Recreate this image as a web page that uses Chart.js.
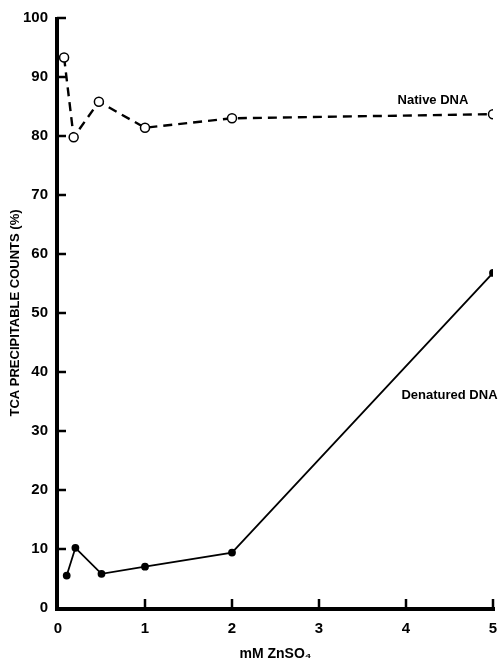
<!DOCTYPE html>
<html>
<head>
<meta charset="utf-8">
<script src="https://cdn.jsdelivr.net/npm/chart.js@4/dist/chart.umd.min.js"></script>
<style>
  html, body { margin: 0; padding: 0; background: #fff; }
  #wrap { width: 502px; height: 665px; }
</style>
</head>
<body>
<div id="wrap"><canvas id="chart"></canvas></div>
<script>
// x values (mM ZnSO4) and percent TCA precipitable counts
const nativeX = [0.07, 0.18, 0.47, 1, 2, 5];
const nativeY = [93.3, 79.8, 85.8, 81.4, 83.0, 83.7];
const denatX = [0.1, 0.2, 0.5, 1, 2, 5];
const denatY = [5.5, 10.2, 5.8, 7.0, 9.4, 56.8];
const xTicks = [0, 1, 2, 3, 4, 5];
const yTicks = [0, 10, 20, 30, 40, 50, 60, 70, 80, 90, 100];

const FONT = '"Liberation Sans", Arial, sans-serif';

const toPoints = (xs, ys) => xs.map((x, i) => ({ x: x, y: ys[i] }));

// axis lines + inward tick marks, drawn from the scales
const axesPlugin = {
  id: 'axes',
  afterDraw(chart) {
    const c = chart.ctx, x = chart.scales.x, y = chart.scales.y;
    const a = chart.chartArea;
    c.save();
    c.strokeStyle = '#000';
    c.lineWidth = 4;
    c.beginPath();
    c.moveTo(a.left - 1, a.top - 1);
    c.lineTo(a.left - 1, a.bottom + 1);
    c.lineTo(a.right + 2, a.bottom + 1);
    c.stroke();
    c.lineWidth = 2.5;
    yTicks.forEach(v => {
      if (v === 0) return;
      const py = y.getPixelForValue(v);
      c.beginPath(); c.moveTo(a.left - 1, py); c.lineTo(a.left + 8, py); c.stroke();
    });
    xTicks.forEach(v => {
      if (v === 0) return;
      const px = x.getPixelForValue(v);
      c.beginPath(); c.moveTo(px, a.bottom + 1); c.lineTo(px, a.bottom - 9); c.stroke();
    });
    // series names
    c.fillStyle = '#000';
    c.font = 'bold 13px ' + FONT;
    c.textAlign = 'center';
    c.textBaseline = 'middle';
    c.fillText('Native DNA', x.getPixelForValue(4.31), y.getPixelForValue(86));
    c.fillText('Denatured DNA', x.getPixelForValue(4.5), y.getPixelForValue(36));
    c.restore();
  }
};

new Chart(document.getElementById('chart'), {
  type: 'scatter',
  data: {
    datasets: [{
      label: 'Native DNA',
      data: toPoints(nativeX, nativeY),
      showLine: true,
      borderColor: '#000',
      borderWidth: 2.4,
      borderDash: [9, 6],
      pointRadius: 4.5,
      pointBorderWidth: 1.5,
      pointBackgroundColor: '#fff',
      pointBorderColor: '#000'
    }, {
      label: 'Denatured DNA',
      data: toPoints(denatX, denatY),
      showLine: true,
      borderColor: '#000',
      borderWidth: 1.8,
      pointRadius: 3,
      pointBackgroundColor: '#000',
      pointBorderColor: '#000'
    }]
  },
  options: {
    responsive: true,
    maintainAspectRatio: false,
    animation: false,
    layout: { padding: { top: 18, right: 9, left: 0, bottom: 0 } },
    plugins: { legend: { display: false }, tooltip: { enabled: false } },
    scales: {
      x: {
        type: 'linear', min: 0, max: 5,
        afterFit: s => { s.height = 57; s.paddingLeft = 0; s.paddingRight = 0; },
        afterBuildTicks: s => { s.ticks = xTicks.map(v => ({ value: v })); },
        grid: { display: false, drawTicks: false },
        border: { display: false },
        ticks: { color: '#000', padding: 12, font: { family: FONT, size: 15, weight: 'bold' } },
        title: { display: true, text: 'mM ZnSO\u2084', color: '#000', padding: { top: 0, bottom: 2 }, font: { family: FONT, size: 14, weight: 'bold' } }
      },
      y: {
        min: 0, max: 100,
        afterFit: s => { s.width = 58; s.paddingTop = 0; s.paddingBottom = 0; },
        afterBuildTicks: s => { s.ticks = yTicks.map(v => ({ value: v })); },
        grid: { display: false, drawTicks: false },
        border: { display: false },
        ticks: { color: '#000', padding: 10, font: { family: FONT, size: 15, weight: 'bold' } },
        title: { display: true, text: 'TCA PRECIPITABLE COUNTS (%)', color: '#000', padding: { top: 8, bottom: 0 }, font: { family: FONT, size: 13, weight: 'bold' } }
      }
    }
  },
  plugins: [axesPlugin]
});
</script>
</body>
</html>
